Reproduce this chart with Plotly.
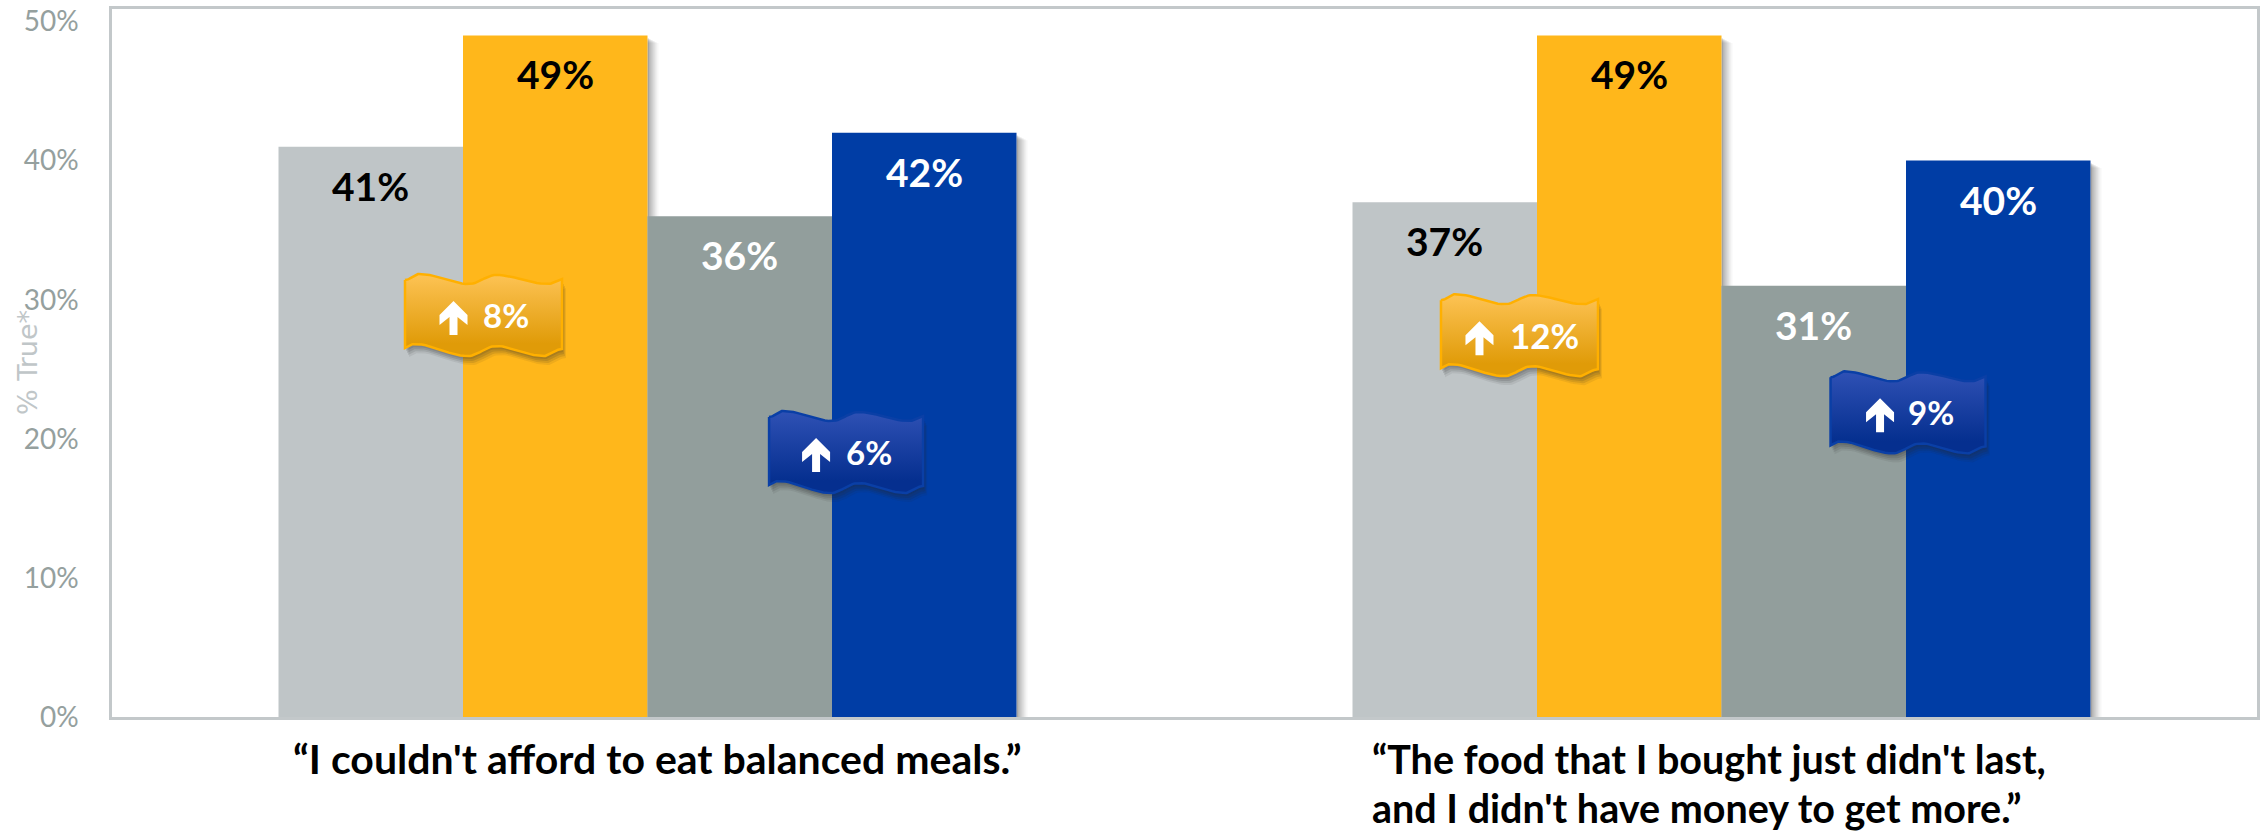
import math
import numpy as np
import plotly.graph_objects as go

# ---- data ----
CATEGORIES = [["“I couldn't afford to eat balanced meals.”"],
              ["“The food that I bought just didn't last,",
               "and I didn't have money to get more.”"]]
SERIES_A = [41, 37]
SERIES_B = [49, 49]
SERIES_C = [36, 31]
SERIES_D = [42, 40]
CAT_POS = [0, 1]
Y_TICKS = [0, 10, 20, 30, 40, 50]
Y_TICK_LABELS = ["0%", "10%", "20%", "30%", "40%", "50%"]
Y_TITLE = "% True*"
FLAG_LABELS = ["8%", "6%", "12%", "9%"]
FLAG_X = [-0.1527, 0.1849, 0.8119, 1.1737]
FLAG_Y = [28.9, 19.05, 27.45, 21.9]

# ---- styling / layout constants ----
W, H = 2260, 831
L, R, T, B = 112, 2257, 9, 717
PX_PER_CAT = 1074
PX_PER_PCT = 13.91
Y_MAX = (B - T) / PX_PER_PCT
X_MIN = (L - 647.5) / PX_PER_CAT
X_MAX = (R - 647.5) / PX_PER_CAT
PXX = 1 / PX_PER_CAT      # data units per pixel
PXY = 1 / PX_PER_PCT
COLORS = ["#BFC5C7", "#FFB71B", "#929E9C", "#003DA5"]
LABEL_COLORS = ["black", "black", "white", "white"]
TEXT_FONT = "Lato"
BAR_W = 184.5 * PXX

SERIES = [SERIES_A, SERIES_B, SERIES_C, SERIES_D]
fig = go.Figure()
for s, c in zip(SERIES, COLORS):
    fig.add_bar(x=CAT_POS, y=s, marker=dict(color=c, line_width=0), hoverinfo="skip", showlegend=False)

# soft shadows to the right of the bars, under the traces
shapes = []
annotations = []
for i, s in enumerate(SERIES):
    for cx, v in zip(CAT_POS, s):
        bar_c = cx + (i - 1.5) * BAR_W
        right = bar_c + BAR_W / 2
        for w_px, alpha in [(11, .04), (9, .07), (7, .09), (5, .11), (3, .13), (1.5, .15)]:
            shapes.append(dict(type="rect", layer="below", xref="x", yref="y", line_width=0,
                               x0=right, x1=right + w_px * PXX, y0=0, y1=v - (w_px * .5 + 2) * PXY,
                               fillcolor=f"rgba(60,60,60,{alpha})"))
        annotations.append(dict(x=bar_c, y=v, yshift=-39, xref="x", yref="y", showarrow=False,
                                xanchor="center", yanchor="middle", text=f"{v}%",
                                font=dict(family=TEXT_FONT, size=39, weight="bold", color=LABEL_COLORS[i])))


def wave(points, n=14):
    xs, ys = [], []
    for (x0, y0), (x1, y1) in zip(points[:-1], points[1:]):
        for t in np.linspace(0, 1, n, endpoint=False):
            xs.append(x0 + (x1 - x0) * t)
            ys.append(y0 + (y1 - y0) * (1 - math.cos(math.pi * t)) / 2)
    xs.append(points[-1][0])
    ys.append(points[-1][1])
    return xs, ys


FLAG_WIDTHS = [157, 154, 157, 155]
FLAG_H = 82
TOP_EDGE = [(0, 6), (14, 0), (64, 10), (91, 1), (143, 10), (157, 5)]
BOTTOM_EDGE = [(0, 74), (9, 70), (63, 82), (91, 72), (139, 82), (157, 75)]
tx, ty = wave(TOP_EDGE)
bx, by = wave(BOTTOM_EDGE)
OUT_X = np.array(tx + bx[::-1] + tx[:1]) / 157 - 0.5
OUT_Y = np.array(ty + by[::-1] + ty[:1]) - FLAG_H / 2
ARROW_X = np.array([0, 14, 14, 4, 4, -4, -4, -14, -14, 0], dtype=float)
ARROW_Y = np.array([-17, -3, 7, -1, 17, 17, -1, 7, -3, -17], dtype=float)

FLAG_STYLE = [
    ("#E09B08", "#FDC355", "#FFB000"),
    ("#052F8F", "#2F51B5", "#0A3FA6"),
    ("#E09B08", "#FDC355", "#FFB000"),
    ("#052F8F", "#2F51B5", "#0A3FA6"),
]
ARROW_OFF = [-30, -30, -40, -28]
TEXT_OFF = [22, 23, 25, 23]
TEXT_SIZE = [33, 33, 35, 33]

for fx, fy, lab, st, ao, to, fw, ts in zip(FLAG_X, FLAG_Y, FLAG_LABELS, FLAG_STYLE, ARROW_OFF, TEXT_OFF, FLAG_WIDTHS, TEXT_SIZE):
    ox = OUT_X * fw
    for dx, dy, a in [(1, 3, .14), (2, 5, .14), (3, 7, .12), (4, 9, .08)]:
        fig.add_scatter(x=fx + (ox + dx) * PXX, y=fy - (OUT_Y + dy) * PXY, mode="lines",
                        line_width=0, fill="toself", fillcolor=f"rgba(40,40,40,{a})",
                        hoverinfo="skip", showlegend=False)
    fig.add_scatter(x=fx + ox * PXX, y=fy - OUT_Y * PXY, mode="lines",
                    line=dict(color=st[2], width=2.5), fill="toself",
                    fillgradient=dict(type="vertical", colorscale=[[0, st[0]], [0.15, st[0]], [1, st[1]]]),
                    hoverinfo="skip", showlegend=False)
    fig.add_scatter(x=fx + (ARROW_X + ao) * PXX, y=fy - (ARROW_Y + 3) * PXY, mode="lines",
                    line_width=0, fill="toself", fillcolor="white", hoverinfo="skip", showlegend=False)
    annotations.append(dict(x=fx, y=fy, xshift=to, xref="x", yref="y", showarrow=False,
                            xanchor="center", yanchor="middle", text=lab,
                            font=dict(family=TEXT_FONT, size=ts, weight="bold", color="white")))

# category captions
annotations.append(dict(x=CAT_POS[0], xshift=10, y=0, yshift=-41, xref="x", yref="y", showarrow=False,
                        xanchor="center", yanchor="middle", text=CATEGORIES[0][0],
                        font=dict(family=TEXT_FONT, size=41, weight="bold", color="black")))
for line, ys in zip(CATEGORIES[1], [-41, -90]):
    annotations.append(dict(x=CAT_POS[1], xshift=-352, y=0, yshift=ys, xref="x", yref="y", showarrow=False,
                            xanchor="left", yanchor="middle", align="left", text=line,
                            font=dict(family=TEXT_FONT, size=39.5, weight="bold", color="black")))

# rotated axis title (paper coordinates span the plot area)
annotations.append(dict(x=(27 - L) / (R - L), y=(B - 363) / (B - T), xref="paper", yref="paper", showarrow=False,
                        xanchor="center", yanchor="middle", textangle=-90, text=Y_TITLE,
                        font=dict(family="DejaVu Sans", size=27, color="#C0C6C8")))

fig.update_layout(
    width=W, height=H, margin=dict(l=L, r=W - R, t=T, b=H - B, autoexpand=False),
    paper_bgcolor="white", plot_bgcolor="white",
    barmode="group", bargap=1 - 4 * BAR_W, bargroupgap=0, showlegend=False,
    shapes=shapes, annotations=annotations,
    xaxis=dict(range=[X_MIN, X_MAX], tickvals=[], showgrid=False, zeroline=False,
               showline=True, mirror=True, linecolor="#C3C8CA", linewidth=2.5, fixedrange=True),
    yaxis=dict(range=[0, Y_MAX], tickvals=Y_TICKS, ticktext=Y_TICK_LABELS, showgrid=False, zeroline=False,
               showline=True, mirror=True, linecolor="#C3C8CA", linewidth=2.5,
               ticks="outside", ticklen=25, tickcolor="rgba(0,0,0,0)",
               tickfont=dict(family=TEXT_FONT, size=28, color="#95A09E"),
               fixedrange=True),
)
fig.write_html("out.html", config=dict(displayModeBar=False),
               post_script="document.body.style.margin='0';document.body.style.overflow='hidden';")
